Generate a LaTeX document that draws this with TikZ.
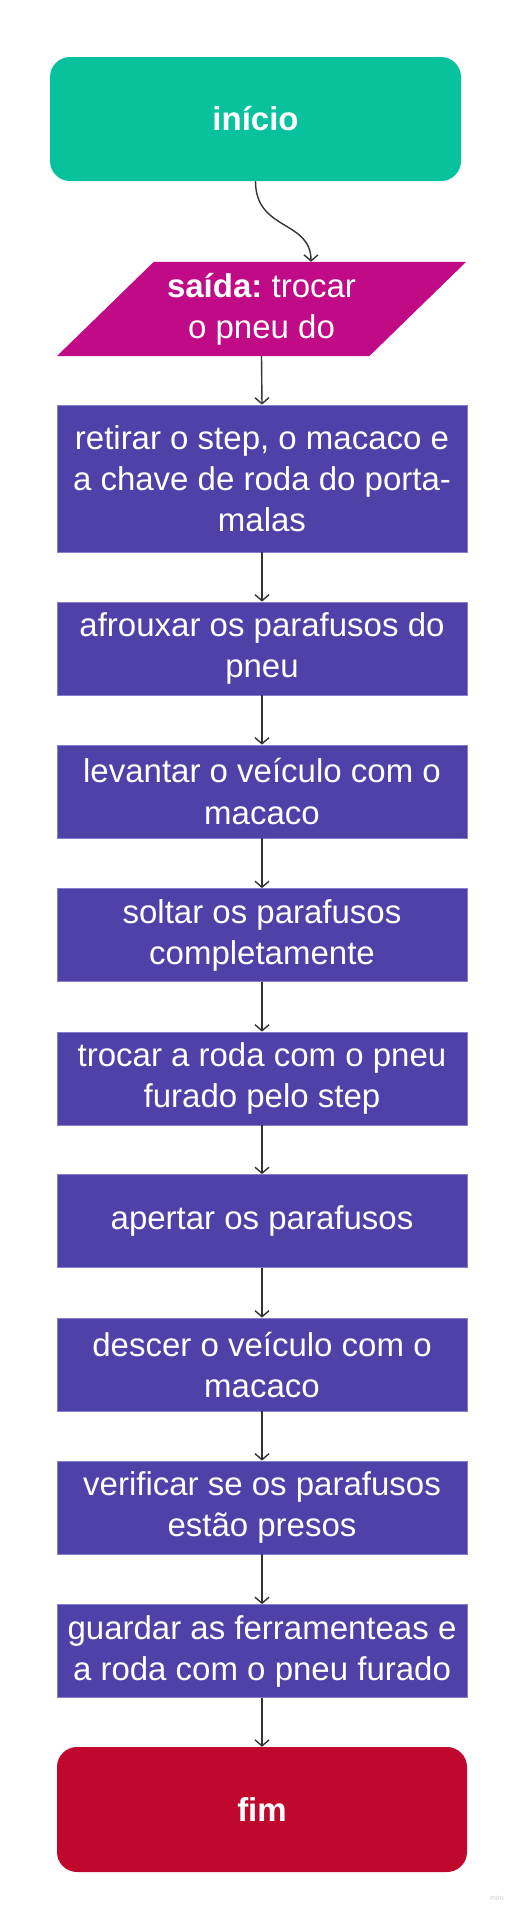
\documentclass[tikz,border=0pt]{standalone}
\usepackage{fontspec}
\setmainfont{Liberation Sans}
\usetikzlibrary{arrows.meta,backgrounds}
\definecolor{startgreen}{RGB}{8,194,158}
\definecolor{outmag}{RGB}{192,10,134}
\definecolor{procpurple}{RGB}{78,65,168}
\definecolor{procborder}{RGB}{135,125,205}
\definecolor{endred}{RGB}{192,8,45}
\definecolor{linegray}{RGB}{51,51,51}
\frenchspacing
\begin{document}
\begin{tikzpicture}[x=1pt,y=-1pt,
 every node/.style={font=\fontsize{33}{41}\selectfont, text=white, inner sep=0pt, align=center},
 terminal/.style={rounded corners=20pt, minimum width=411pt, minimum height=124pt},
 procbox/.style={fill=procpurple, draw=procborder, line width=0.8pt, minimum width=410pt},
 flow/.style={draw=linegray, line width=1.4pt, -{Straight Barb[length=6pt,width=14pt]}}
]
\useasboundingbox (0,0) rectangle (522,1912);
\node[terminal, fill=startgreen] (start) at (255.5,119) {\bfseries início};
\node[minimum width=409pt, minimum height=94pt] (out) at (261.5,309) {\textbf{saída:}\ trocar\\o pneu do};
\begin{scope}[on background layer]
\fill[outmag] ([xshift=97pt]out.north west) -- (out.north east) -- ([xshift=-97pt]out.south east) -- (out.south west) -- cycle;
\end{scope}
\node[procbox, minimum height=147pt] (b1) at (262,478.5) {retirar o step, o macaco e\\a chave de roda do porta-\\malas};
\node[procbox, minimum height=93pt] (b2) at (262,648.5) {afrouxar os parafusos do\\pneu};
\node[procbox, minimum height=93pt] (b3) at (262,791.5) {levantar o veículo com o\\macaco};
\node[procbox, minimum height=93pt] (b4) at (262,935) {soltar os parafusos\\completamente};
\node[procbox, minimum height=93pt] (b5) at (262,1078.5) {trocar a roda com o pneu\\furado pelo step};
\node[procbox, minimum height=93pt] (b6) at (262,1221) {apertar os parafusos};
\node[procbox, minimum height=93pt] (b7) at (262,1364.5) {descer o veículo com o\\macaco};
\node[procbox, minimum height=93pt] (b8) at (262,1507.5) {verificar se os parafusos\\estão presos};
\node[procbox, minimum height=93pt] (b9) at (262,1651) {guardar as ferramenteas e\\a roda com o pneu furado};
\node[terminal, minimum width=410pt, minimum height=125pt, fill=endred] (end) at (262,1809.5) {\bfseries fim};
\node[font=\fontsize{7}{8}\selectfont, text=black!20] (wm) at (497,1898) {miro};
\draw[flow] (start.south) .. controls +(0,50) and +(0,-42) .. ([xshift=49.5pt]out.north);
\draw[flow] (out.south) -- (b1.north);
\draw[flow] (b1) -- (b2);
\draw[flow] (b2) -- (b3);
\draw[flow] (b3) -- (b4);
\draw[flow] (b4) -- (b5);
\draw[flow] (b5) -- (b6);
\draw[flow] (b6) -- (b7);
\draw[flow] (b7) -- (b8);
\draw[flow] (b8) -- (b9);
\draw[flow] (b9) -- (end);
\end{tikzpicture}
\end{document}
